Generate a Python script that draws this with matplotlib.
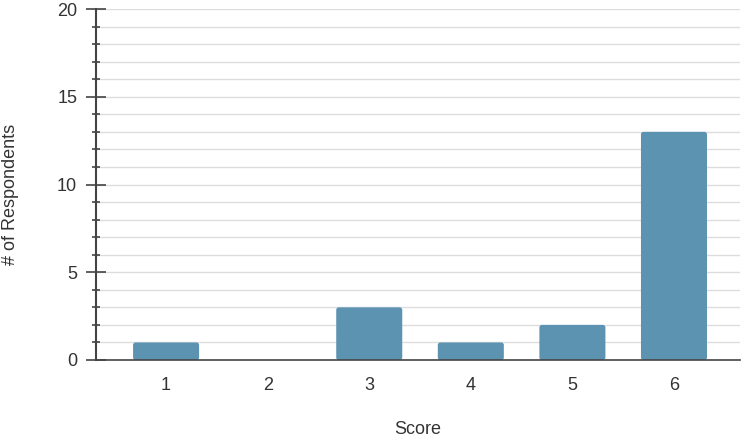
import matplotlib.pyplot as plt
from matplotlib.patches import FancyBboxPatch
from matplotlib.ticker import MultipleLocator

plt.rcParams['font.family'] = ['Liberation Sans', 'DejaVu Sans']

scores = ['1', '2', '3', '4', '5', '6']
respondents = [1, 0, 3, 1, 2, 13]

fig = plt.figure(figsize=(7.47, 4.38), dpi=100)
ax = fig.add_axes([96 / 747, 78 / 438, (740 - 96) / 747, (360 - 9) / 438])

x = list(range(len(scores)))
bars = ax.bar(x, respondents, width=0.65, color='#5b93b0', zorder=3)

# slightly rounded bar corners, like the original
for b in bars:
    if b.get_height() == 0:
        continue
    b.set_visible(False)
    p = FancyBboxPatch((b.get_x(), b.get_y()), b.get_width(), b.get_height(),
                       boxstyle='round,pad=0,rounding_size=0.025',
                       mutation_aspect=5.8, fc='#5b93b0', ec='none', zorder=3)
    ax.add_patch(p)

ax.set_xlim(-0.69, 5.65)
ax.set_ylim(0, 20)
ax.set_xticks(x)
ax.set_xticklabels(scores)
ax.yaxis.set_major_locator(MultipleLocator(5))
ax.yaxis.set_minor_locator(MultipleLocator(1))
ax.grid(axis='y', which='both', color='#dddddd', linewidth=1, zorder=0)

for s in ['top', 'right']:
    ax.spines[s].set_visible(False)
ax.spines['left'].set_color('#444444')
ax.spines['left'].set_linewidth(1.5)
ax.spines['bottom'].set_color('#444444')
ax.spines['bottom'].set_linewidth(1.2)
ax.spines['bottom'].set_zorder(4)

ax.tick_params(axis='y', which='major', length=15, width=1.2, color='#444444',
               direction='inout', labelsize=13, labelcolor='#333333', pad=6)
ax.tick_params(axis='y', which='minor', length=6, width=1.2, color='#444444',
               direction='inout')
ax.tick_params(axis='x', length=0, labelsize=13, labelcolor='#333333', pad=12)

ax.set_xlabel('Score', fontsize=13, color='#333333', va='center')
ax.xaxis.set_label_coords(0.5, (360 - 429) / 351)
ax.set_ylabel('# of Respondents', fontsize=13, color='#333333', va='center')
ax.yaxis.set_label_coords((11 - 96) / 644, (360 - 194) / 351)

fig.savefig('out.png', dpi=100)
